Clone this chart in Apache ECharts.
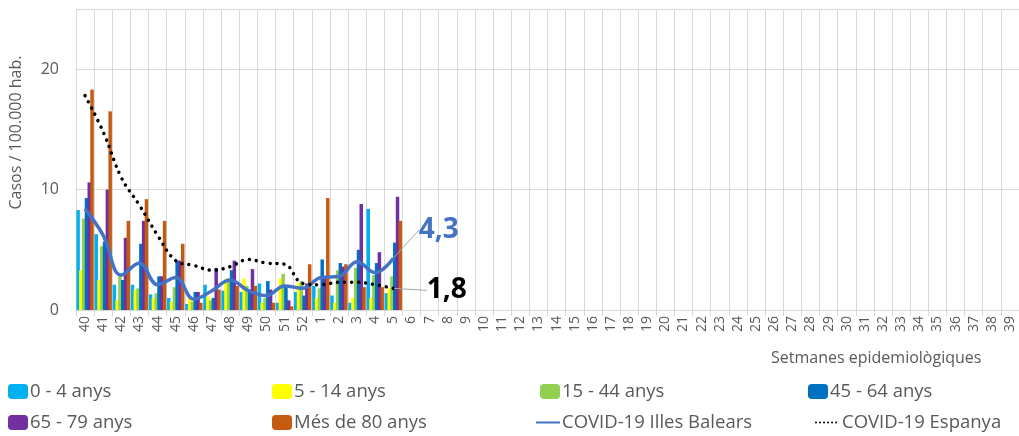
<!DOCTYPE html>
<html>
<head>
<meta charset="utf-8">
<script src="https://cdn.jsdelivr.net/npm/echarts@6/dist/echarts.min.js"></script>
<style>
    html, body { margin: 0; padding: 0; background: #fff; }
    #chart { width: 1019px; height: 436px; }
</style>
</head>
<body>
<div id="chart"></div>
<script>
    // setmanes epidemiològiques (40..52, 1..39)
    var weeks = ['40', '41', '42', '43', '44', '45', '46', '47', '48', '49', '50', '51', '52',
        '1', '2', '3', '4', '5', '6', '7', '8', '9', '10', '11', '12', '13', '14', '15', '16', '17',
        '18', '19', '20', '21', '22', '23', '24', '25', '26', '27', '28', '29', '30', '31', '32',
        '33', '34', '35', '36', '37', '38', '39'];

    // casos / 100.000 hab. per grup d'edat
    var age0_4 = [8.3, 6.3, 2.1, 2.1, 1.3, 1.0, 0.5, 2.1, 1.6, 1.5, 2.2, 0.6, 1.5, 2.0, 1.2, 0.6, 8.4, 1.4];
    var age5_14 = [3.3, 2.5, 0.8, 1.7, 1.0, 0.7, 1.0, 1.1, 2.6, 2.6, 0.6, 2.6, 2.2, 1.0, 0.6, 1.0, 1.0, 1.8];
    var age15_44 = [7.6, 5.3, 2.8, 1.8, 1.4, 1.9, 0.7, 0.8, 2.4, 2.0, 1.0, 3.0, 2.4, 1.8, 3.3, 3.5, 2.9, 2.8];
    var age45_64 = [9.3, 5.7, 2.5, 5.5, 2.8, 4.1, 1.5, 1.0, 3.3, 1.7, 2.4, 2.0, 1.2, 4.2, 3.9, 5.0, 3.9, 5.6];
    var age65_79 = [10.6, 10.0, 6.0, 7.4, 2.8, 4.1, 1.5, 3.5, 4.1, 3.4, 1.7, 0.8, 2.2, 2.6, 3.6, 8.8, 4.8, 9.4];
    var age80 = [18.3, 16.5, 7.4, 9.2, 7.4, 5.5, 0.6, 1.7, 2.0, 2.0, 0.6, 0.3, 3.8, 9.3, 3.8, 1.9, 1.9, 7.4];

    var balears = [8.4, 6.2, 2.9, 3.9, 2.1, 2.7, 0.9, 1.6, 2.5, 1.6, 1.2, 2.0, 1.8, 2.7, 2.8, 4.0, 3.1, 4.3];
    var espanya = [17.8, 14.8, 11.0, 8.7, 6.2, 4.1, 3.7, 3.3, 3.6, 4.2, 3.9, 3.8, 2.2, 2.1, 2.3, 2.3, 2.1, 1.8];

    var grey = '#595959';
    var font = 'Open Sans';

    function barSeries(name, data, color) {
        return {
            name: name,
            type: 'bar',
            data: data,
            barGap: '-20%',
            barCategoryGap: '4%',
            itemStyle: {color: color},
            emphasis: {disabled: true}
        };
    }

    // l'ultim punt de cada linia porta l'etiqueta amb el valor
    function withEndLabel(data, color) {
        var out = data.slice(0, data.length - 1);
        out.push({
            value: data[data.length - 1],
            symbol: 'circle',
            symbolSize: 1,
            label: {
                show: true,
                position: 'right',
                color: color,
                fontSize: 28,
                fontWeight: 'bold',
                fontFamily: font,
                formatter: function (p) {
                    return String(p.value).replace('.', ',');
                }
            },
            labelLine: {show: true, lineStyle: {color: '#a6a6a6', width: 1}}
        });
        return out;
    }

    // una llegenda per element, en 2 files x 4 columnes
    function legendItem(name, left, top, lineType) {
        var item = name;
        if (lineType) {
            item = {name: name, itemStyle: {opacity: 0}, lineStyle: {type: lineType}};
        }
        return {
            left: left,
            top: top,
            itemWidth: lineType ? 24 : 20,
            itemHeight: 15,
            selectedMode: false,
            textStyle: {color: grey, fontSize: 18.5, fontFamily: font, padding: [0, 0, 0, -3]},
            data: [item]
        };
    }

    var myChart = echarts.init(document.getElementById('chart'));

    myChart.setOption({
        animation: false,
        title: {
            text: 'Setmanes epidemiològiques',
            left: 766,
            top: 345,
            textStyle: {color: grey, fontSize: 16, fontWeight: 'normal', fontFamily: font}
        },
        legend: [
            legendItem('0 - 4 anys', 3, 377),
            legendItem('5 - 14 anys', 267, 377),
            legendItem('15 - 44 anys', 535, 377),
            legendItem('45 - 64 anys', 803, 377),
            legendItem('65 - 79 anys', 3, 408),
            legendItem('Més de 80 anys', 267, 408),
            legendItem('COVID-19 Illes Balears', 530, 408, 'solid'),
            legendItem('COVID-19 Espanya', 810, 408, [0.01, 4])
        ],
        grid: {left: 75, right: 0, top: 9, bottom: 126},
        xAxis: {
            type: 'category',
            data: weeks,
            boundaryGap: true,
            axisLine: {lineStyle: {color: '#d9d9d9'}},
            axisTick: {show: true, interval: 0, length: 6, lineStyle: {color: '#d9d9d9'}},
            splitLine: {show: true, interval: 0, lineStyle: {color: '#d9d9d9', width: 1}},
            axisLabel: {interval: 0, rotate: 90, color: grey, fontSize: 14, fontFamily: font, margin: 6}
        },
        yAxis: {
            type: 'value',
            min: 0,
            max: 25,
            interval: 10,
            name: 'Casos / 100.000 hab.',
            nameLocation: 'middle',
            nameRotate: 90,
            nameGap: 52,
            nameTextStyle: {color: grey, fontSize: 16, fontFamily: font, padding: [0, 0, 0, 54]},
            axisLine: {show: true, lineStyle: {color: '#d9d9d9'}},
            axisTick: {show: false},
            splitLine: {lineStyle: {color: '#d9d9d9'}},
            axisLabel: {color: grey, fontSize: 16, fontFamily: font, margin: 17, showMaxLabel: false}
        },
        series: [
            barSeries('0 - 4 anys', age0_4, '#00b0f0'),
            barSeries('5 - 14 anys', age5_14, '#ffff00'),
            barSeries('15 - 44 anys', age15_44, '#92d050'),
            barSeries('45 - 64 anys', age45_64, '#0070c0'),
            barSeries('65 - 79 anys', age65_79, '#7030a0'),
            barSeries('Més de 80 anys', age80, '#c55a11'),
            {
                name: 'COVID-19 Illes Balears',
                type: 'line',
                smooth: 0.4,
                symbol: 'none',
                data: withEndLabel(balears, '#4472c4'),
                itemStyle: {color: '#4472c4'},
                lineStyle: {color: '#4472c4', width: 3.5},
                labelLayout: {dx: 20, dy: -28},
                emphasis: {disabled: true}
            },
            {
                name: 'COVID-19 Espanya',
                type: 'line',
                smooth: 0.4,
                symbol: 'none',
                data: withEndLabel(espanya, '#000000'),
                itemStyle: {color: '#000000'},
                lineStyle: {color: '#000000', width: 3.5, type: [0.01, 7], cap: 'round'},
                labelLayout: {dx: 28, dy: 2},
                emphasis: {disabled: true}
            }
        ]
    });
</script>
</body>
</html>
